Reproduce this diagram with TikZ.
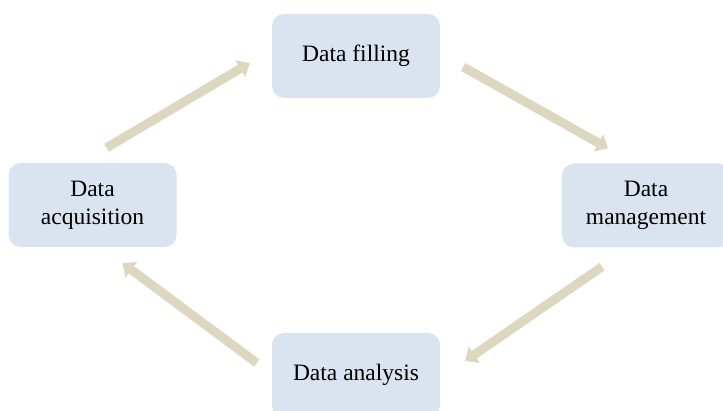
\documentclass[tikz,border=0pt]{standalone}
\usepackage{fontspec}
\setmainfont{Liberation Serif}
\usetikzlibrary{arrows.meta}
\definecolor{boxblue}{RGB}{218,227,240}
\definecolor{flowtan}{RGB}{221,215,192}

\begin{document}
\begin{tikzpicture}[x=1pt,y=-1pt]
\tikzset{StepBox/.style ={fill=boxblue, rounded corners=12pt, minimum width=168pt,
  minimum height=84pt, align=center, font=\fontsize{23.5}{28}\selectfont}}
\tikzset{FlowArrow/.style ={draw=flowtan, line width=9pt, -{Triangle[width=19pt,length=11pt]}}}
\useasboundingbox (0,0) rectangle (723,411);
\clip (0,0) rectangle (723,411);
\node[StepBox] (Fill) at (356,56) {Data filling};
\node[StepBox] (Manage) at (646,205.5) {Data\\management};
\node[StepBox] (Analysis) at (356,375) {Data analysis};
\node[StepBox] (Acq) at (92.5,205) {Data\\acquisition};
\draw[FlowArrow] ([shift={(14,-15)}]Acq.north) -- ([shift={(-22,7)}]Fill.west);
\draw[FlowArrow] ([shift={(23,11)}]Fill.east) -- ([shift={(-38,-15)}]Manage.north);
\draw[FlowArrow] ([shift={(-44,19)}]Manage.south) -- ([shift={(25,-14)}]Analysis.east);
\draw[FlowArrow] ([shift={(-15,-12)}]Analysis.west) -- ([shift={(30,16)}]Acq.south);
\end{tikzpicture}
\end{document}
